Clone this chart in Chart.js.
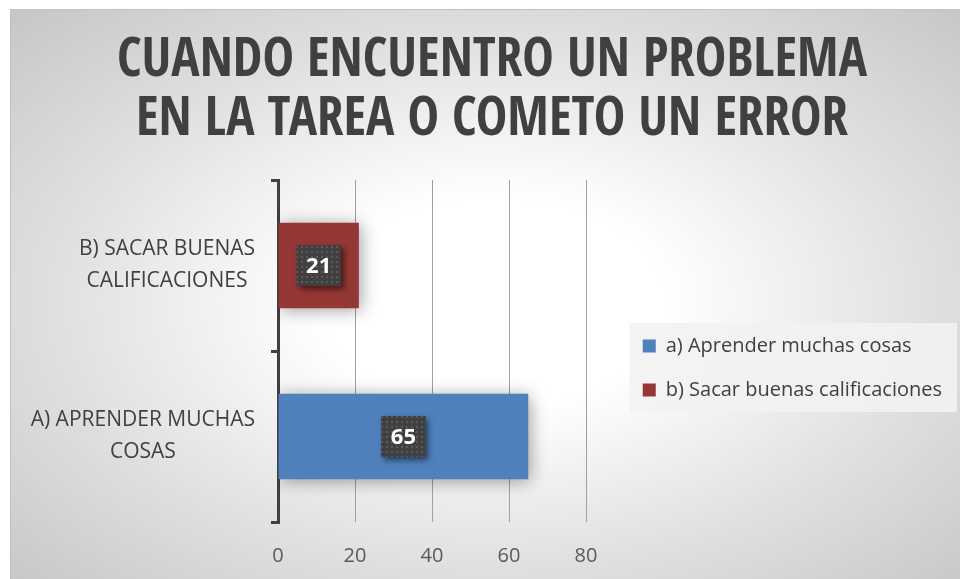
<!DOCTYPE html>
<html>
<head>
<meta charset="utf-8">
<script src="https://cdn.jsdelivr.net/npm/chart.js@4.4.1/dist/chart.umd.min.js"></script>
<style>
  html, body { margin: 0; padding: 0; background: #fff; overflow: hidden; }
  #frame {
    position: absolute; left: 10px; top: 9px; width: 965px; height: 585px;
    border-left: 1px solid #c2c2c2; border-top: 1px solid #c2c2c2;
    background: radial-gradient(ellipse farthest-corner at 50% 50%, #ffffff 25%, #e0e0e0 64%, #c6c6c6 100%);
  }
  #wrap { position: absolute; left: 0; top: 0; width: 960px; height: 579px; }
</style>
</head>
<body>
<div id="frame"></div>
<div id="wrap"><canvas id="chart1" width="960" height="579"></canvas></div>
<script>
// data
const categories = [['B) SACAR BUENAS', 'CALIFICACIONES'], ['A) APRENDER MUCHAS', 'COSAS']];
const seriesNames = ['a) Aprender muchas cosas', 'b) Sacar buenas calificaciones'];
const aprender = [null, 65];
const sacar = [21, null];
const xMin = 0, xMax = 80, xStep = 20;
const titleLines = ['CUANDO ENCUENTRO UN PROBLEMA', 'EN LA TAREA O COMETO UN ERROR'];

Chart.defaults.font.family = '"Open Sans", sans-serif';

// legend width -> gap between plot and legend
const mctx = document.createElement('canvas').getContext('2d');
mctx.font = '20px "Open Sans", sans-serif';
const legendTextW = Math.max(...seriesNames.map(s => mctx.measureText(s).width));
const gapW = Math.max(0, 952 - (24 + 13 + 10 + legendTextW + 10) - 586);

// dotted pattern for the value boxes
const pc = document.createElement('canvas');
pc.width = 5; pc.height = 5;
const pctx = pc.getContext('2d');
pctx.fillStyle = '#404040'; pctx.fillRect(0, 0, 5, 5);
pctx.fillStyle = '#5a5a5a'; pctx.fillRect(1, 1, 2, 2);

const legendBg = {
  id: 'legendBg',
  beforeDraw(chart) {
    const lg = chart.legend, hb = lg.legendHitBoxes;
    if (!hb || hb.length < 2) return;
    const ctx = chart.ctx;
    const x = hb[0].left - 13, y = hb[0].top - 13;
    const w = lg.right + 5 - x, h = hb[1].top + hb[1].height + 12 - y;
    ctx.save();
    ctx.fillStyle = 'rgba(242,242,242,0.9)';
    ctx.fillRect(x, y, w, h);
    ctx.restore();
  }
};

const barShadow = {
  id: 'barShadow',
  beforeDatasetsDraw(chart) {
    const ctx = chart.ctx;
    ctx.save();
    ctx.shadowColor = 'rgba(0,0,0,0.38)';
    ctx.shadowBlur = 16;
    ctx.shadowOffsetX = 2;
    ctx.shadowOffsetY = 2;
  },
  afterDatasetsDraw(chart) {
    chart.ctx.restore();
  }
};

const valueLabels = {
  id: 'valueLabels',
  afterDatasetsDraw(chart) {
    const ctx = chart.ctx;
    ctx.save();
    ctx.font = 'bold 22px "Open Sans", sans-serif';
    ctx.textAlign = 'center';
    ctx.textBaseline = 'middle';
    chart.data.datasets.forEach((ds, di) => {
      chart.getDatasetMeta(di).data.forEach((bar, i) => {
        if (ds.data[i] == null) return;
        const p = bar.getCenterPoint();
        const txt = String(ds.data[i]);
        const w = ctx.measureText(txt).width + 19, h = 41;
        ctx.save();
        ctx.shadowColor = 'rgba(0,0,0,0.55)';
        ctx.shadowBlur = 6;
        ctx.shadowOffsetX = 3;
        ctx.shadowOffsetY = 3;
        ctx.fillStyle = '#404040';
        ctx.fillRect(p.x - w / 2, p.y - h / 2, w, h);
        ctx.restore();
        ctx.fillStyle = ctx.createPattern(pc, 'repeat');
        ctx.fillRect(p.x - w / 2, p.y - h / 2, w, h);
        ctx.fillStyle = '#ffffff';
        ctx.fillText(txt, p.x, p.y + 1);
      });
    });
    ctx.restore();
  }
};

const yLabels = {
  id: 'yLabels',
  afterDraw(chart) {
    const ctx = chart.ctx, y = chart.scales.y;
    ctx.save();
    ctx.font = '21px "Open Sans", sans-serif';
    ctx.fillStyle = '#404040';
    ctx.textAlign = 'center';
    ctx.textBaseline = 'middle';
    categories.forEach((lines, i) => {
      const cy = y.getPixelForValue(i);
      const w = Math.max(...lines.map(l => ctx.measureText(l).width));
      const cx = y.right - 23 - w / 2;
      lines.forEach((l, j) => ctx.fillText(l, cx, cy + (j - (lines.length - 1) / 2) * 32));
    });
    ctx.restore();
  }
};

const ctx1 = document.getElementById('chart1');
const chart1 = new Chart(ctx1, {
  type: 'bar',
  data: {
    labels: categories,
    datasets: [{
      label: seriesNames[0],
      data: aprender,
      backgroundColor: '#4f81bd',
      barPercentage: 0.5,
      categoryPercentage: 1
    }, {
      label: seriesNames[1],
      data: sacar,
      backgroundColor: '#953735',
      barPercentage: 0.5,
      categoryPercentage: 1
    }]
  },
  options: {
    indexAxis: 'y',
    responsive: false,
    animation: false,
    layout: { padding: { left: 32, right: 8, top: 0, bottom: 0 } },
    scales: {
      x: {
        type: 'linear',
        min: xMin,
        max: xMax,
        stacked: true,
        ticks: { stepSize: xStep, color: '#595959', font: { size: 20 }, padding: 22 },
        grid: { color: '#a0a0a0', lineWidth: 1, drawTicks: false },
        border: { display: false },
        afterFit(s) { s.height = 57; }
      },
      y: {
        type: 'category',
        stacked: true,
        offset: true,
        ticks: { display: false },
        grid: { offset: true, drawOnChartArea: false, drawTicks: true, tickLength: 7, color: '#404040', lineWidth: 3 },
        border: { display: true, color: '#404040', width: 3 },
        afterFit(s) { s.width = 278 - 32; }
      },
      gap: {
        type: 'linear',
        position: 'right',
        display: true,
        ticks: { display: false },
        grid: { display: false },
        border: { display: false },
        afterFit(s) { s.width = gapW; }
      }
    },
    plugins: {
      title: {
        display: true,
        text: titleLines,
        color: '#404040',
        font: { family: '"Open Sans Condensed", "Roboto Condensed", sans-serif', size: 53, weight: 'bold', lineHeight: 59 / 53 },
        padding: { top: 33, bottom: 29 }
      },
      legend: {
        position: 'right',
        fullSize: false,
        maxWidth: 400,
        title: { display: true, text: '', padding: { top: 10, bottom: 0 }, font: { size: 20 } },
        labels: {
          boxWidth: 13,
          boxHeight: 13,
          padding: 24,
          color: '#404040',
          font: { size: 20 }
        }
      },
      tooltip: { enabled: false }
    }
  },
  plugins: [legendBg, barShadow, valueLabels, yLabels]
});
</script>
</body>
</html>
